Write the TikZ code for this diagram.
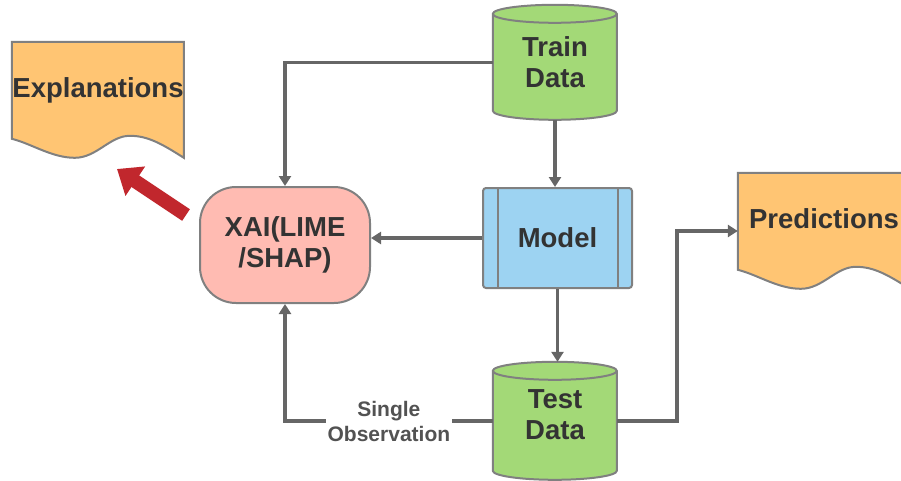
\documentclass[tikz,border=0pt]{standalone}
\usepackage{fontspec}
\setmainfont{Liberation Sans}
\usetikzlibrary{arrows.meta,backgrounds,calc}
\definecolor{docorange}{HTML}{FFC573}
\definecolor{cylgreen}{HTML}{A3D977}
\definecolor{modelblue}{HTML}{9DD3F2}
\definecolor{xaipink}{HTML}{FFBBB2}
\definecolor{edgegray}{HTML}{808080}
\definecolor{linegray}{HTML}{666666}
\definecolor{textgray}{HTML}{333333}
\definecolor{arrowred}{HTML}{C1272D}
\begin{document}
\begin{tikzpicture}[x=1pt,y=-1pt,
  lbl/.style={font=\fontsize{27.5}{31}\selectfont\bfseries, text=textgray, align=center},
  box/.style={lbl, inner sep=0pt},
  conn/.style={draw=linegray, line width=3.5pt, -{Triangle[length=10pt,width=12pt]}},
  outline/.style={draw=edgegray, line width=2pt},
  shapebox/.style={box, fill=#1, draw=edgegray, line width=2pt},
  smalllbl/.style={font=\fontsize{21}{25}\selectfont\bfseries, text=textgray!85, align=center, fill=white, inner sep=2pt},
]
\useasboundingbox (0,0) rectangle (901,481);

% nodes
\node[box, minimum width=172pt, minimum height=116pt, text height=19pt, text depth=24pt] (expl) at (98,100) {Explanations};
\node[box, minimum width=172pt, minimum height=116pt, text height=19pt, text depth=24pt] (pred) at (824,231) {Predictions};
\node[shapebox=xaipink, rounded corners=36pt, minimum width=170pt, minimum height=116pt] (xai) at (285,245) {XAI(LIME\\/SHAP)};
\node[shapebox=modelblue, rounded corners=3pt, minimum width=149pt, minimum height=100pt] (model) at (557.5,238) {Model};
\node[box, minimum width=124pt, minimum height=115pt] (train) at (555,62.5) {Train\\Data};
\node[box, minimum width=124pt, minimum height=118pt, text depth=12pt] (test) at (555,421) {Test\\Data};

% shapes behind text
\begin{scope}[on background layer]
  \foreach \n in {expl,pred}{
    \begin{scope}[shift={(\n.north west)}]
      \draw[outline, fill=docorange] (0,0) -- (172,0) -- (172,116)
        .. controls (150,102) and (136,94) .. (118,94)
        .. controls (98,94) and (85,116) .. (63,116)
        .. controls (40,116) and (20,102) .. (0,97) -- cycle;
    \end{scope}
  }
  \foreach \n/\h in {train/115,test/118}{
    \begin{scope}[shift={(\n.north west)}]
      \draw[outline, fill=cylgreen] (0,9) -- (0,\h-9)
        arc[start angle=180, end angle=360, x radius=62pt, y radius=9pt]
        -- (124,9)
        arc[start angle=0, end angle=180, x radius=62pt, y radius=9pt] -- cycle;
      \draw[outline] (0,9) arc[start angle=180, end angle=360, x radius=62pt, y radius=9pt];
    \end{scope}
  }
\end{scope}
\draw[outline] ([xshift=16pt]model.north west) -- ([xshift=16pt]model.south west);
\draw[outline] ([xshift=-15pt]model.north east) -- ([xshift=-15pt]model.south east);

% connectors
\draw[conn] (train.west) -| (xai.north);
\draw[conn] (train.south) -- (train.south |- model.north);
\draw[conn] (model.west) -- (model.west -| xai.east);
\draw[conn] (model.south) -- (model.south |- test.north);
\draw[conn] (test.west) -| node[pos=0.25, smalllbl] {Single\\Observation} (xai.south);
\draw[conn] (test.east) -- ++(60,0) |- (pred.west);

% red arrow
\coordinate (rtail) at (186,215);
\coordinate (rhead) at (117,169);
\draw[arrowred, line width=14pt, -{Triangle[length=22pt,width=34pt]}] (rtail) -- (rhead);
\end{tikzpicture}
\end{document}
